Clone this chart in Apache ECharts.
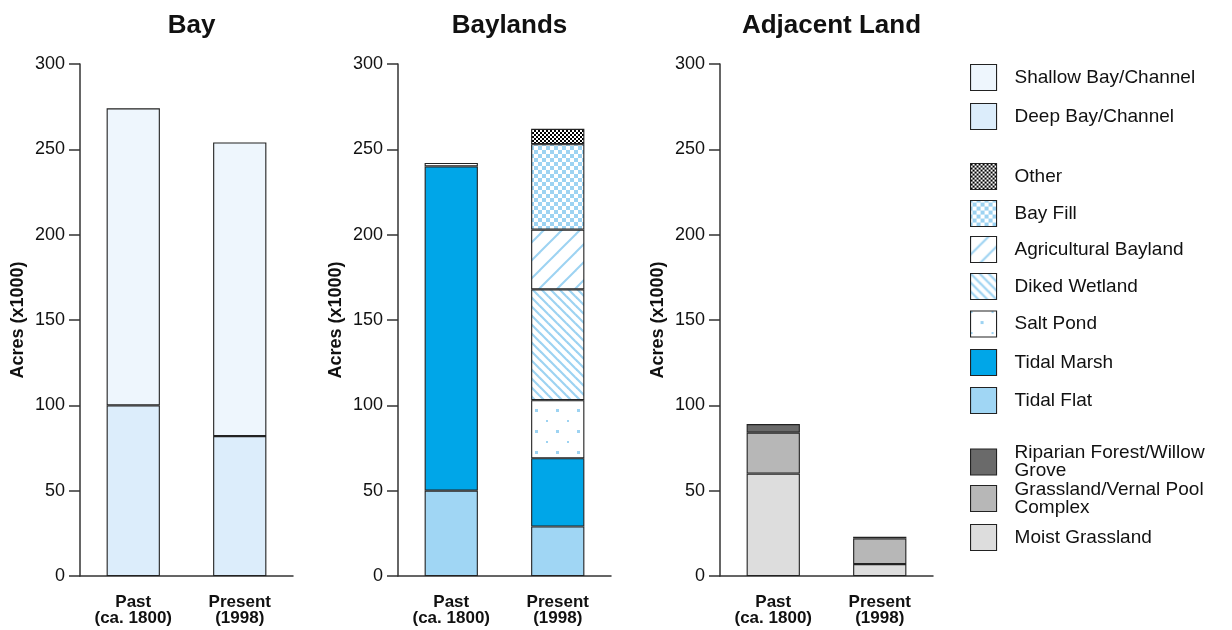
<!DOCTYPE html>
<html><head><meta charset="utf-8">
<script src="https://cdn.jsdelivr.net/npm/echarts@6/dist/echarts.min.js"></script>
<style>html,body{margin:0;padding:0;background:#fff}#c{width:1232px;height:630px}</style>
</head><body><div id="c"></div>
<script>
// ---- data ----
const categories = ['Past\n(ca. 1800)', 'Present\n(1998)'];
const panelTitles = ['Bay', 'Baylands', 'Adjacent Land'];
const yAxisName = 'Acres (x1000)';
const yMin = 0, yMax = 300, yStep = 50;

const shallowBay = [174, 172];
const deepBay = [100, 82];

const tidalFlat = [50, 29];
const tidalMarsh = [190, 40];
const saltPond = [2, 34];
const dikedWetland = ['-', 65];
const agBayland = ['-', 35];
const bayFill = ['-', 50];
const otherLand = ['-', 9];

const moistGrassland = [60, 7];
const grasslandVernal = [24, 15];
const riparianForest = [5, 1];

// ---- patterns ----
function tile(w, h, draw) {
  const c = document.createElement('canvas'); c.width = w; c.height = h;
  const g = c.getContext('2d'); g.fillStyle = '#fff'; g.fillRect(0, 0, w, h); draw(g, w, h);
  return { image: c, repeat: 'repeat' };
}
const LB = '#9dd3f2';
const patBayFill = tile(8, 8, g => { g.fillStyle = LB; for (let i = 0; i < 8; i += 2) { g.fillRect(i, i, 2, 2); g.fillRect(6 - i, i, 2, 2); } });
function diag(s, dir, lw) {
  return tile(s, s, g => {
    g.strokeStyle = LB; g.lineWidth = lw;
    for (const off of [-s, 0, s]) {
      g.beginPath();
      if (dir > 0) { g.moveTo(-2 + off, -2); g.lineTo(s + 2 + off, s + 2); }
      else { g.moveTo(-2 + off, s + 2); g.lineTo(s + 2 + off, -2); }
      g.stroke();
    }
  });
}
const patDiked = diag(9, 1, 2.2);
const patAg = diag(18, -1, 2);
const patSalt = tile(21, 21, g => { g.fillStyle = LB; g.fillRect(0, 0, 2, 2); g.fillRect(10, 10, 3, 3); });
const patOther = tile(4, 4, g => { g.fillStyle = '#000'; g.fillRect(0, 0, 2, 2); g.fillRect(2, 2, 2, 2); });

const FONT = 'Liberation Sans';
const grids = [{ left: 80 }, { left: 398 }, { left: 720 }].map(g => ({ left: g.left, width: 213, top: 64, height: 512, outerBoundsMode: 'none' }));

const axisLineStyle = { color: '#333', width: 1.5 };
const xAxes = grids.map((g, i) => ({
  type: 'category', gridIndex: i, data: categories,
  axisLine: { lineStyle: axisLineStyle },
  axisTick: { length: 11, lineStyle: axisLineStyle },
  axisLabel: { color: '#111', fontFamily: FONT, fontWeight: 'bold', fontSize: 17, lineHeight: 16, margin: 18 },
  splitLine: { show: false }
}));
const yAxes = grids.map((g, i) => ({
  type: 'value', gridIndex: i, min: yMin, max: yMax, interval: yStep,
  name: yAxisName, nameLocation: 'middle', nameRotate: 90, nameGap: 53,
  nameTextStyle: { color: '#111', fontFamily: FONT, fontWeight: 'bold', fontSize: 18 },
  axisLine: { show: true, lineStyle: axisLineStyle },
  axisTick: { show: true, length: 11, lineStyle: axisLineStyle },
  axisLabel: { color: '#111', fontFamily: FONT, fontSize: 18, margin: 15 },
  splitLine: { show: false }
}));

function bar(name, data, idx, color) {
  return {
    name, type: 'bar', data, xAxisIndex: idx, yAxisIndex: idx, stack: 's' + idx,
    barWidth: '50%', itemStyle: { color, borderColor: '#222', borderWidth: 1.1 },
    emphasis: { disabled: true }
  };
}
const series = [
  bar('Deep Bay/Channel', deepBay, 0, '#dcedfb'),
  bar('Shallow Bay/Channel', shallowBay, 0, '#eef6fd'),
  bar('Tidal Flat', tidalFlat, 1, '#a0d6f4'),
  bar('Tidal Marsh', tidalMarsh, 1, '#00a6e8'),
  bar('Salt Pond', saltPond, 1, patSalt),
  bar('Diked Wetland', dikedWetland, 1, patDiked),
  bar('Agricultural Bayland', agBayland, 1, patAg),
  bar('Bay Fill', bayFill, 1, patBayFill),
  bar('Other', otherLand, 1, patOther),
  bar('Moist Grassland', moistGrassland, 2, '#dddddd'),
  bar('Grassland/Vernal Pool Complex', grasslandVernal, 2, '#b7b7b7'),
  bar('Riparian Forest/Willow Grove', riparianForest, 2, '#6a6a6a')
];

const legendItems = [
  ['Shallow Bay/Channel', 77, 1], ['Deep Bay/Channel', 116, 1],
  ['Other', 176, 1], ['Bay Fill', 213, 1], ['Agricultural Bayland', 249, 1], ['Diked Wetland', 286, 1],
  ['Salt Pond', 323.5, 1], ['Tidal Marsh', 362, 1], ['Tidal Flat', 400, 1],
  ['Riparian Forest/Willow Grove', 461.5, 2], ['Grassland/Vernal Pool Complex', 498, 2], ['Moist Grassland', 537, 1]
];
const legendLabels = {
  'Riparian Forest/Willow Grove': 'Riparian Forest/Willow\nGrove',
  'Grassland/Vernal Pool Complex': 'Grassland/Vernal Pool\nComplex'
};
const legends = legendItems.map(([name, cy, lines]) => ({
  data: [name], left: 970, top: cy - (lines === 2 ? 18 : 13), padding: 0,
  orient: 'vertical', icon: 'rect', itemWidth: 26, itemHeight: 26, selectedMode: false,
  itemStyle: { borderColor: '#222', borderWidth: 1.1 },
  formatter: n => legendLabels[n] || n,
  textStyle: { color: '#111', fontFamily: FONT, fontSize: 19, lineHeight: 18, padding: [0, 0, 0, 13] }
}));

const titles = panelTitles.map((t, i) => ({
  text: t, left: grids[i].left + 106.5, top: 8, textAlign: 'center',
  textStyle: { color: '#111', fontFamily: FONT, fontWeight: 'bold', fontSize: 26 }
}));

const chart = echarts.init(document.getElementById('c'), null, { renderer: 'canvas' });
chart.setOption({
  animation: false, backgroundColor: '#fff',
  title: titles, grid: grids, xAxis: xAxes, yAxis: yAxes, legend: legends, series,
  tooltip: { show: false }
});
</script></body></html>
